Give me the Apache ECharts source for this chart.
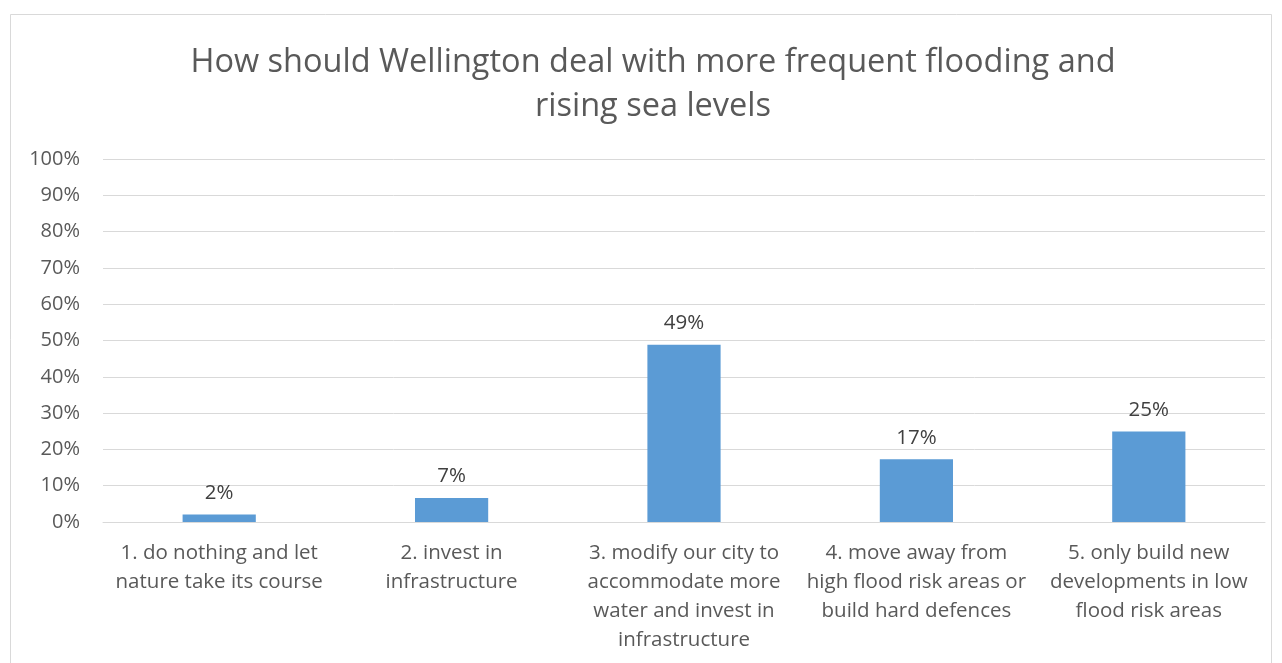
<!DOCTYPE html>
<html><head><meta charset="utf-8">
<script src="https://cdn.jsdelivr.net/npm/echarts@6/dist/echarts.min.js"></script>
<style>html,body{margin:0;padding:0;background:#fff}#c{width:1282px;height:663px}</style>
</head><body><div id="c"></div>
<script>
const titleText = "How should Wellington deal with more frequent flooding and\nrising sea levels";
const categories = [
  "1. do nothing and let\nnature take its course",
  "2. invest in\ninfrastructure",
  "3. modify our city to\naccommodate more\nwater and invest in\ninfrastructure",
  "4. move away from\nhigh flood risk areas or\nbuild hard defences",
  "5. only build new\ndevelopments in low\nflood risk areas"
];
const values = [0.021, 0.066, 0.488, 0.173, 0.249];
const yTicks = {min: 0, max: 1, interval: 0.1};

const font = "Open Sans, Noto Sans, sans-serif";
const chart = echarts.init(document.getElementById('c'));
chart.setOption({
  backgroundColor: '#fff',
  animation: false,
  title: {
    text: titleText, left: 648, textAlign: 'center', top: 36,
    textStyle: {fontFamily: font, fontSize: 32.5, fontWeight: 'normal', color: '#595959', lineHeight: 44, align: 'center'}
  },
  graphic: [{type: 'rect', shape: {x: 10.5, y: 14.5, width: 1261, height: 700},
    style: {fill: 'none', stroke: '#d9d9d9', lineWidth: 1}, silent: true, z: -1}],
  grid: {left: 103, right: 17, top: 159, bottom: 141},
  xAxis: {
    type: 'category', data: categories,
    axisLine: {lineStyle: {color: '#d9d9d9', width: 1}},
    axisTick: {show: false},
    axisLabel: {interval: 0, fontFamily: font, fontSize: 20.5, color: '#595959', lineHeight: 29, margin: 17}
  },
  yAxis: {
    type: 'value', min: yTicks.min, max: yTicks.max, interval: yTicks.interval,
    axisLine: {show: false}, axisTick: {show: false},
    splitLine: {lineStyle: {color: '#d9d9d9', width: 1}},
    axisLabel: {fontFamily: font, fontSize: 20, color: '#595959', margin: 23,
      formatter: v => Math.round(v * 100) + '%'}
  },
  series: [{
    type: 'bar', data: values, barWidth: '31.5%',
    itemStyle: {color: '#5b9bd5'},
    label: {show: true, position: 'top', distance: 11, fontFamily: font, fontSize: 20.5, color: '#404040',
      formatter: p => Math.round(p.value * 100) + '%'}
  }]
});
</script></body></html>
